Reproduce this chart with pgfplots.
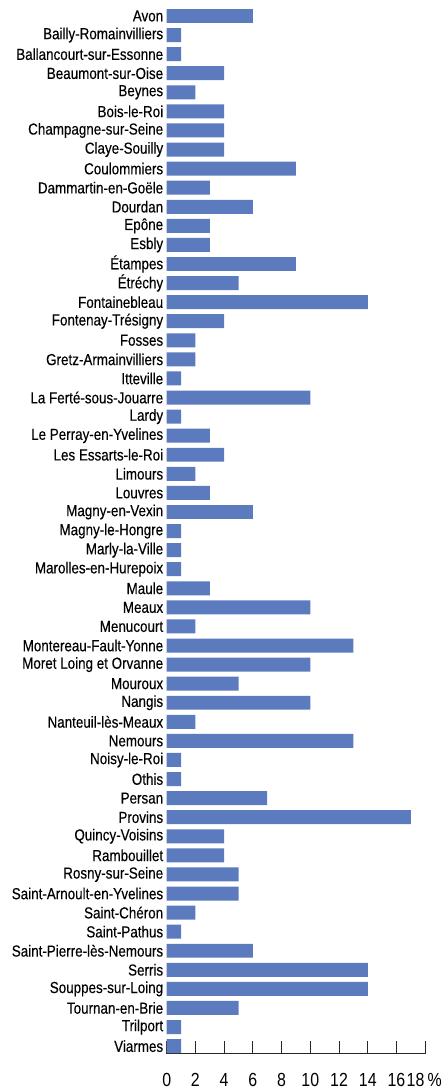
\documentclass[border=0pt]{standalone}
\usepackage{fontspec}
\setmainfont{Liberation Sans}[FakeStretch=0.84, FakeBold=0.25]
\newfontfamily\tickfont{Liberation Sans}[FakeStretch=0.84]
\usepackage{pgfplots}
\pgfplotsset{compat=1.18}
\definecolor{barblue}{RGB}{91,123,190}
\definecolor{axisgray}{RGB}{40,40,40}

\begin{document}
\begin{tikzpicture}
\begin{axis}[
    xbar,
    scale only axis,
    width=259pt,
    height=1051.2pt,
    xmin=0, xmax=18,
    ymin=-0.6, ymax=54.4,
    y dir=reverse,
    bar width=14pt,
    axis x line*=bottom,
    axis y line*=left,
    y axis line style={draw=none},
    x axis line style={axisgray, line width=1pt},
    xtick={0,2,...,16},
    extra x ticks={18},
    extra x tick labels={18\,\%},
    extra x tick style={xticklabel style={xshift=-1pt}},
    tick align=inside,
    major tick length=13pt,
    xtick style={axisgray, line width=1pt},
    ytick style={draw=none},
    ytick={0,...,54},
    yticklabels={Avon,Bailly-Romainvilliers,Ballancourt-sur-Essonne,Beaumont-sur-Oise,Beynes,Bois-le-Roi,Champagne-sur-Seine,Claye-Souilly,Coulommiers,Dammartin-en-Goële,Dourdan,Epône,Esbly,Étampes,Étréchy,Fontainebleau,Fontenay-Trésigny,Fosses,Gretz-Armainvilliers,Itteville,La Ferté-sous-Jouarre,Lardy,Le Perray-en-Yvelines,Les Essarts-le-Roi,Limours,Louvres,Magny-en-Vexin,Magny-le-Hongre,Marly-la-Ville,Marolles-en-Hurepoix,Maule,Meaux,Menucourt,Montereau-Fault-Yonne,Moret Loing et Orvanne,Mouroux,Nangis,Nanteuil-lès-Meaux,Nemours,Noisy-le-Roi,Othis,Persan,Provins,Quincy-Voisins,Rambouillet,Rosny-sur-Seine,Saint-Arnoult-en-Yvelines,Saint-Chéron,Saint-Pathus,Saint-Pierre-lès-Nemours,Serris,Souppes-sur-Loing,Tournan-en-Brie,Trilport,Viarmes},
    yticklabel style={font=\fontsize{16}{19}\selectfont, text=black},
    xticklabel style={font=\tickfont\fontsize{19}{23}\selectfont, text=black, yshift=-16pt},
    /pgf/number format/assume math mode=true,
]
\addplot[draw=none, fill=barblue] coordinates {
    (6,0) (1,1) (1,2) (4,3) (2,4) (4,5) (4,6) (4,7) (9,8) (3,9)
    (6,10) (3,11) (3,12) (9,13) (5,14) (14,15) (4,16) (2,17) (2,18) (1,19)
    (10,20) (1,21) (3,22) (4,23) (2,24) (3,25) (6,26) (1,27) (1,28) (1,29)
    (3,30) (10,31) (2,32) (13,33) (10,34) (5,35) (10,36) (2,37) (13,38) (1,39)
    (1,40) (7,41) (17,42) (4,43) (4,44) (5,45) (5,46) (2,47) (1,48) (6,49)
    (14,50) (14,51) (5,52) (1,53) (1,54)
};
\end{axis}
\path[use as bounding box] (-167pt,-34.3pt) rectangle (279pt,1055.7pt);
\end{tikzpicture}
\end{document}
